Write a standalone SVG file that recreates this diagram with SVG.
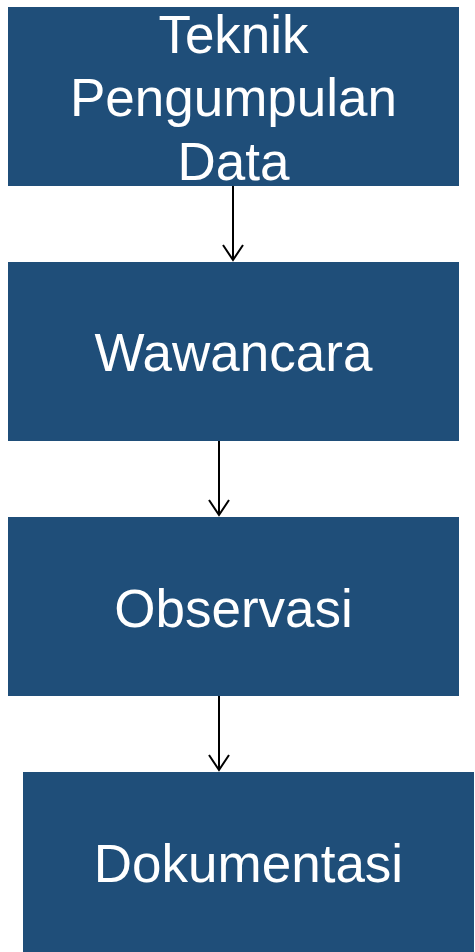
<svg xmlns="http://www.w3.org/2000/svg" width="475" height="952" viewBox="0 0 475 952">
<style>
.box{fill:#1F4E79}
.lbl{fill:#fff;font-family:"Liberation Sans",Arial,sans-serif;font-size:53px;text-anchor:middle}
.conn{stroke:#000;stroke-width:2;fill:none}
</style>
<defs>
<marker id="arr" markerWidth="18" markerHeight="24" refX="16" refY="11" orient="auto" markerUnits="userSpaceOnUse" viewBox="0 0 18 22">
<path d="M1,1 L16,11 L1,21" fill="none" stroke="#000" stroke-width="2"/>
</marker>
</defs>
<rect width="475" height="952" fill="#fff"/>
<g id="n1"><rect class="box" x="8" y="7" width="451" height="179"/>
<text class="lbl" x="233.5" y="53">Teknik</text>
<text class="lbl" x="233.5" y="116">Pengumpulan</text>
<text class="lbl" x="233.5" y="180">Data</text></g>
<g id="n2"><rect class="box" x="8" y="262" width="451" height="179"/>
<text class="lbl" x="233.5" y="371">Wawancara</text></g>
<g id="n3"><rect class="box" x="8" y="517" width="451" height="179"/>
<text class="lbl" x="233.5" y="627">Observasi</text></g>
<g id="n4"><rect class="box" x="23" y="772" width="451" height="180"/>
<text class="lbl" x="248.5" y="882">Dokumentasi</text></g>
<g id="connectors">
<line class="conn" x1="233" y1="186" x2="233" y2="260" marker-end="url(#arr)"/>
<line class="conn" x1="219" y1="441" x2="219" y2="515" marker-end="url(#arr)"/>
<line class="conn" x1="219" y1="696" x2="219" y2="770" marker-end="url(#arr)"/>
</g>
</svg>
